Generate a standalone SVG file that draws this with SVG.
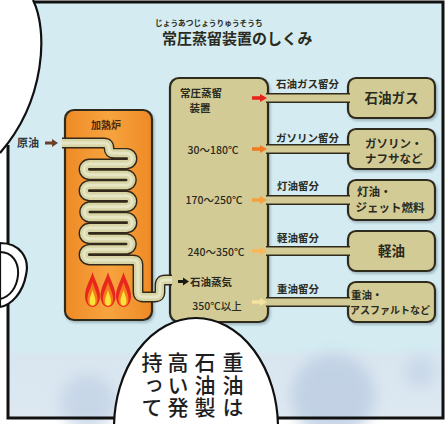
<svg xmlns="http://www.w3.org/2000/svg" xmlns:xlink="http://www.w3.org/1999/xlink" width="448" height="424" viewBox="0 0 448 424">
  <defs>
    <style>
      .jp{font-family:"Noto Sans CJK JP","Noto Sans",sans-serif;fill:#2a2a20}
      .b{font-weight:700}
      .col{font-size:10.5px;font-weight:700}
      .num{font-size:10.5px;font-weight:500}
      .cut{font-size:10.5px;font-weight:700}
      .prod{font-size:11.5px;font-weight:700}
      .panel-line{fill:none;stroke:#111;stroke-width:3}
      .ink{stroke:#2f2a1c;stroke-width:2.2}
      .tan{fill:#d3cb95}
      .bubble{fill:#fff;stroke:#111;stroke-width:2.2}
    </style>
    <linearGradient id="heat" x1="0" y1="0" x2="1" y2="0">
      <stop offset="0" stop-color="#ee8a26"/>
      <stop offset="0.5" stop-color="#f7a43f"/>
      <stop offset="1" stop-color="#ee8a26"/>
    </linearGradient>
    <linearGradient id="lower" x1="0" y1="0" x2="0" y2="1">
      <stop offset="0" stop-color="#d3ebf1"/>
      <stop offset="0.12" stop-color="#d9e6f0"/>
      <stop offset="1" stop-color="#dde8f1"/>
    </linearGradient>
    <filter id="shadow" x="-10%" y="-10%" width="130%" height="130%">
      <feDropShadow dx="1.5" dy="2" stdDeviation="1.3" flood-color="#4a5a6a" flood-opacity="0.35"/>
    </filter>
    <filter id="soft" x="-50%" y="-50%" width="200%" height="200%">
      <feGaussianBlur stdDeviation="7"/>
    </filter>
    <!-- fraction arrow, fill set per use -->
    <path id="arr" d="M0 -1.7 H8 V-4 L15 0 L8 4 V1.7 H0 Z"/>
    <!-- heating coil centreline, stroke set per use -->
    <path id="coil" d="M62 143 H104 Q109 143 109 148 Q109 153.3 114 153.3 H126.7 A5.33 5.33 0 0 1 126.7 164 H89.3 A5.33 5.33 0 0 0 89.3 174.7 H126.7 A5.33 5.33 0 0 1 126.7 185.3 H89.3 A5.33 5.33 0 0 0 89.3 196 H126.7 A5.33 5.33 0 0 1 126.7 206.7 H89.3 A5.33 5.33 0 0 0 89.3 217.3 H126.7 A5.33 5.33 0 0 1 126.7 228 H89.3 A5.33 5.33 0 0 0 89.3 238.7 H126.7 A5.33 5.33 0 0 1 126.7 249.3 H89.3 A5.33 5.33 0 0 0 89.3 260 H133 Q138 260 138 265 V292 Q138 297 143 297 H155 Q160 297 160 292 V285 Q160 280 165 280 H172"/>
    <!-- burner flame, centred on x=0, base at y=0 -->
    <g id="flame">
      <path d="M0 -35 C2 -27 8 -19 7.5 -10 C7 -3 3 0 0 0 C-3 0 -7 -3 -7.5 -10 C-8 -19 -2 -27 0 -35 Z" fill="#e8281c"/>
      <path d="M0 -25 C1.5 -19 5.5 -13 5 -7 C4.7 -2.5 2.2 -1 0 -1 C-2.2 -1 -4.7 -2.5 -5 -7 C-5.5 -13 -1.5 -19 0 -25 Z" fill="#f57c1c"/>
      <path d="M0 -17 C1 -13 3.2 -9 3 -5.5 C2.8 -2.5 1.4 -1.5 0 -1.5 C-1.4 -1.5 -2.8 -2.5 -3 -5.5 C-3.2 -9 -1 -13 0 -17 Z" fill="#fbe23a"/>
    </g>
  </defs>

  <!-- page and panel background -->
  <rect width="448" height="424" fill="#fff"/>
  <rect x="8" y="2" width="435" height="416" fill="#d3ebf1"/>
  <rect x="8" y="348" width="435" height="70" fill="url(#lower)"/>
  <g filter="url(#soft)" opacity="0.8">
    <circle cx="333" cy="396" r="42" fill="#bccde2"/>
    <circle cx="88" cy="402" r="28" fill="#c3d3e6"/>
    <circle cx="420" cy="372" r="16" fill="#c6d6e8"/>
  </g>

  <!-- panel frame -->
  <path class="panel-line" d="M8 145 V418 H443 V2 H30"/>

  <!-- title -->
  <g id="title">
    <text class="jp b" x="155" y="26" font-size="7.7">じょうあつじょうりゅうそうち</text>
    <text class="jp b" x="162" y="44" font-size="15">常圧蒸留装置のしくみ</text>
  </g>

  <!-- heating furnace -->
  <g id="furnace">
    <rect x="65" y="110" width="87" height="210" rx="9" fill="url(#heat)" class="ink" filter="url(#shadow)"/>
    <text class="jp b" x="106" y="129" font-size="10" text-anchor="middle" style="fill:#4a2a10">加熱炉</text>
    <use xlink:href="#flame" x="92.5" y="307"/>
    <use xlink:href="#flame" x="108" y="307"/>
    <use xlink:href="#flame" x="123.5" y="307"/>
  </g>

  <!-- crude oil inlet -->
  <g id="crude">
    <text class="jp b" x="17" y="147" font-size="11" style="fill:#2e3a44">原油</text>
    <path d="M45 141.5 H52 V139 L58 143 L52 147 V144.5 H45 Z" fill="#6b3f2a"/>
  </g>

  <!-- distillation column -->
  <g id="column">
    <rect x="170" y="78" width="98" height="244" rx="9" class="tan ink" filter="url(#shadow)"/>
    <text class="jp col" x="201" y="97" text-anchor="middle">常圧蒸留</text>
    <text class="jp col" x="200" y="112" text-anchor="middle">装置</text>
    <text class="jp num" x="213" y="154" text-anchor="middle">30～180℃</text>
    <text class="jp num" x="214" y="204" text-anchor="middle">170～250℃</text>
    <text class="jp num" x="216" y="256" text-anchor="middle">240～350℃</text>
    <path d="M178 280 H183 V277.5 L189 281.5 L183 285.5 V283 H178 Z" fill="#1a1a14"/>
    <text class="jp col" x="190" y="285.5">石油蒸気</text>
    <text class="jp num" x="217" y="310" text-anchor="middle">350℃以上</text>
  </g>

  <!-- product tanks -->
  <g id="p-gas">
    <rect x="348" y="78" width="87" height="40" rx="8" class="tan ink" filter="url(#shadow)"/>
    <text class="jp b" x="391.5" y="103" font-size="13.5" text-anchor="middle">石油ガス</text>
  </g>
  <g id="p-gasoline">
    <rect x="348" y="129" width="87" height="40" rx="8" class="tan ink" filter="url(#shadow)"/>
    <text class="jp prod" x="365" y="148">ガソリン・</text>
    <text class="jp prod" x="365" y="163">ナフサなど</text>
  </g>
  <g id="p-kerosene">
    <rect x="348" y="180" width="87" height="40" rx="8" class="tan ink" filter="url(#shadow)"/>
    <text class="jp prod" x="357" y="196">灯油・</text>
    <text class="jp prod" x="355.5" y="212">ジェット燃料</text>
  </g>
  <g id="p-gasoil">
    <rect x="348" y="231" width="87" height="40" rx="8" class="tan ink" filter="url(#shadow)"/>
    <text class="jp b" x="391.5" y="256" font-size="13.5" text-anchor="middle">軽油</text>
  </g>
  <g id="p-heavy">
    <rect x="348" y="282" width="87" height="40" rx="8" class="tan ink" filter="url(#shadow)"/>
    <text class="jp b" x="351" y="299" font-size="10.5">重油・</text>
    <text class="jp b" x="350" y="314" font-size="10">アスファルトなど</text>
  </g>

  <!-- connectors: furnace coil and fraction draw-offs -->
  <g id="connectors">
    <g fill="none" stroke-linejoin="round">
      <use xlink:href="#coil" stroke="#33281a" stroke-width="10.8"/>
      <use xlink:href="#coil" stroke="#d7d5a6" stroke-width="8"/>
      <use xlink:href="#coil" stroke="#e6e5c4" stroke-width="3"/>
    </g>

    <g id="draws">
      <rect x="266" y="93" width="84" height="10" fill="#2f2a1c"/>
      <rect x="265" y="94.5" width="86" height="7" class="tan"/>
      <rect x="266" y="144" width="84" height="10" fill="#2f2a1c"/>
      <rect x="265" y="145.5" width="86" height="7" class="tan"/>
      <rect x="266" y="195" width="84" height="10" fill="#2f2a1c"/>
      <rect x="265" y="196.5" width="86" height="7" class="tan"/>
      <rect x="266" y="246" width="84" height="10" fill="#2f2a1c"/>
      <rect x="265" y="247.5" width="86" height="7" class="tan"/>
      <rect x="266" y="297" width="84" height="10" fill="#2f2a1c"/>
      <rect x="265" y="298.5" width="86" height="7" class="tan"/>

      <use xlink:href="#arr" x="252" y="98" fill="#e6231b"/>
      <use xlink:href="#arr" x="252" y="149" fill="#f07a22"/>
      <use xlink:href="#arr" x="252" y="200" fill="#f5a03c"/>
      <use xlink:href="#arr" x="252" y="251" fill="#f8b85a"/>
      <use xlink:href="#arr" x="252" y="302" fill="#f4e4a0"/>
    </g>

    <g id="draw-labels">
      <text class="jp cut" x="276" y="88">石油ガス留分</text>
      <text class="jp cut" x="276" y="142">ガソリン留分</text>
      <text class="jp cut" x="277" y="190">灯油留分</text>
      <text class="jp cut" x="277" y="241.5">軽油留分</text>
      <text class="jp cut" x="277" y="293">重油留分</text>
    </g>
  </g>

  <!-- speech balloons of the page -->
  <path d="M0 0 H33 C48 30 46 100 0 153 Z" fill="#fff"/>
  <path d="M33 0 C48 30 46 100 0 153" fill="none" stroke="#111" stroke-width="2.2"/>
  <path d="M0 243 C20 243 30 258 26 275 C23 292 12 305 0 307 Z" class="bubble"/>
  <path d="M0 252 C12 252 19 262 18 275 C17 287 10 297 0 299" fill="none" stroke="#111" stroke-width="2"/>

  <g id="balloon">
    <ellipse cx="196" cy="428" rx="82" ry="110" class="bubble"/>
    <g class="jp" font-size="21" font-weight="500" style="fill:#1e1e1e" letter-spacing="1.5">
      <text x="233" y="352" writing-mode="vertical-rl">重油は</text>
      <text x="205" y="352" writing-mode="vertical-rl">石油製</text>
      <text x="178" y="352" writing-mode="vertical-rl">高い発</text>
      <text x="152" y="352" writing-mode="vertical-rl">持って</text>
    </g>
  </g>
</svg>
